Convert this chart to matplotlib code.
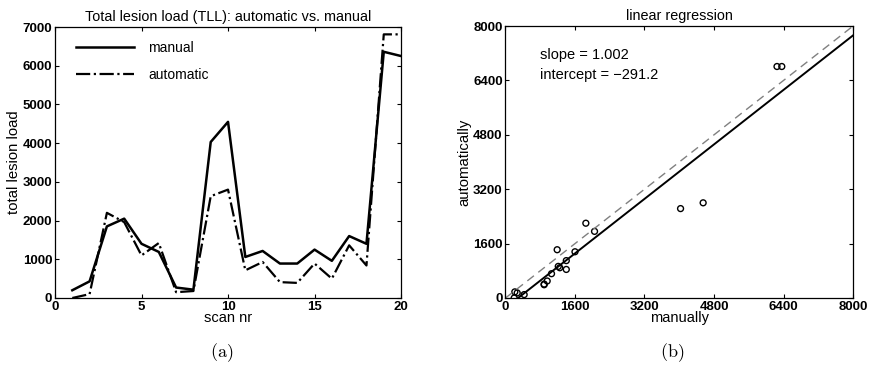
import numpy as np
import matplotlib
matplotlib.use("Agg")
import matplotlib.pyplot as plt

plt.rcParams['font.family'] = ['Liberation Sans', 'DejaVu Sans']
plt.rcParams['mathtext.fontset'] = 'cm'

# data
scan_nr = list(range(1, 21))
manual = [200, 430, 1850, 2050, 1400, 1190, 270, 215, 4030, 4550,
          1060, 1215, 890, 890, 1250, 960, 1600, 1400, 6360, 6250]
automatic = [0, 100, 2200, 1960, 1100, 1420, 150, 180, 2630, 2800,
             715, 930, 410, 390, 890, 500, 1360, 840, 6810, 6810]
slope = 1.002
intercept = -291.2
left_xticks = [0, 5, 10, 15, 20]
left_yticks = [0, 1000, 2000, 3000, 4000, 5000, 6000, 7000]
right_ticks = [0, 1600, 3200, 4800, 6400, 8000]

fig = plt.figure(figsize=(8.7, 3.7), dpi=100)
ax1 = fig.add_axes([0.0632, 0.1946, 0.3978, 0.7324])
ax2 = fig.add_axes([0.581, 0.1946, 0.3995, 0.735])

def style(ax):
    ax.tick_params(direction='in', top=True, right=True, length=3,
                   width=0.8, labelsize=9.5, pad=2)
    for lab in ax.get_xticklabels() + ax.get_yticklabels():
        lab.set_fontweight('bold')
    for s in ax.spines.values():
        s.set_linewidth(0.9)

# (a) TLL per scan
ax1.plot(scan_nr, manual, color='black', lw=1.8, label='manual')
ax1.plot(scan_nr, automatic, color='black', lw=1.6, ls='-.', label='automatic')
ax1.set_xlim(0, 20)
ax1.set_ylim(0, 7000)
ax1.set_xticks(left_xticks)
ax1.set_yticks(left_yticks)
ax1.set_title('Total lesion load (TLL): automatic vs. manual', fontsize=10.4, pad=4)
ax1.set_xlabel('scan nr', fontsize=10.5, labelpad=-1)
ax1.set_ylabel('total lesion load', fontsize=10.7, labelpad=1)
ax1.legend(loc='upper left', frameon=False, fontsize=10, handlelength=4.2,
           handletextpad=1.0, labelspacing=0.95, borderaxespad=0.6,
           bbox_to_anchor=(0.02, 1.0))
style(ax1)

# (b) linear regression
ax2.scatter(manual, automatic, s=18, facecolors='none', edgecolors='black', lw=1.0)
xx = np.array([0, 8000])
ax2.plot(xx, xx, color='gray', lw=1.0, ls=(0, (6, 4)))
ax2.plot(xx, slope * xx + intercept, color='black', lw=1.4)
ax2.set_xlim(0, 8000)
ax2.set_ylim(0, 8000)
ax2.set_xticks(right_ticks)
ax2.set_yticks(right_ticks)
ax2.set_title('linear regression', fontsize=10.4, pad=4)
ax2.set_xlabel('manually', fontsize=10.5, labelpad=-1)
ax2.set_ylabel('automatically', fontsize=10.7, labelpad=1)
ax2.text(0.1, 0.895, f'slope = {slope:.3f}', transform=ax2.transAxes,
         fontsize=10.5, va='center')
ax2.text(0.1, 0.82, f'intercept = \u2212{abs(intercept):.1f}', transform=ax2.transAxes,
         fontsize=10.5, va='center')
style(ax2)

fig.text(222 / 870, 1 - 353 / 370, r'$\mathrm{(a)}$', ha='center', va='center', fontsize=13)
fig.text(672 / 870, 1 - 353 / 370, r'$\mathrm{(b)}$', ha='center', va='center', fontsize=13)

fig.savefig('out.png', dpi=100)
